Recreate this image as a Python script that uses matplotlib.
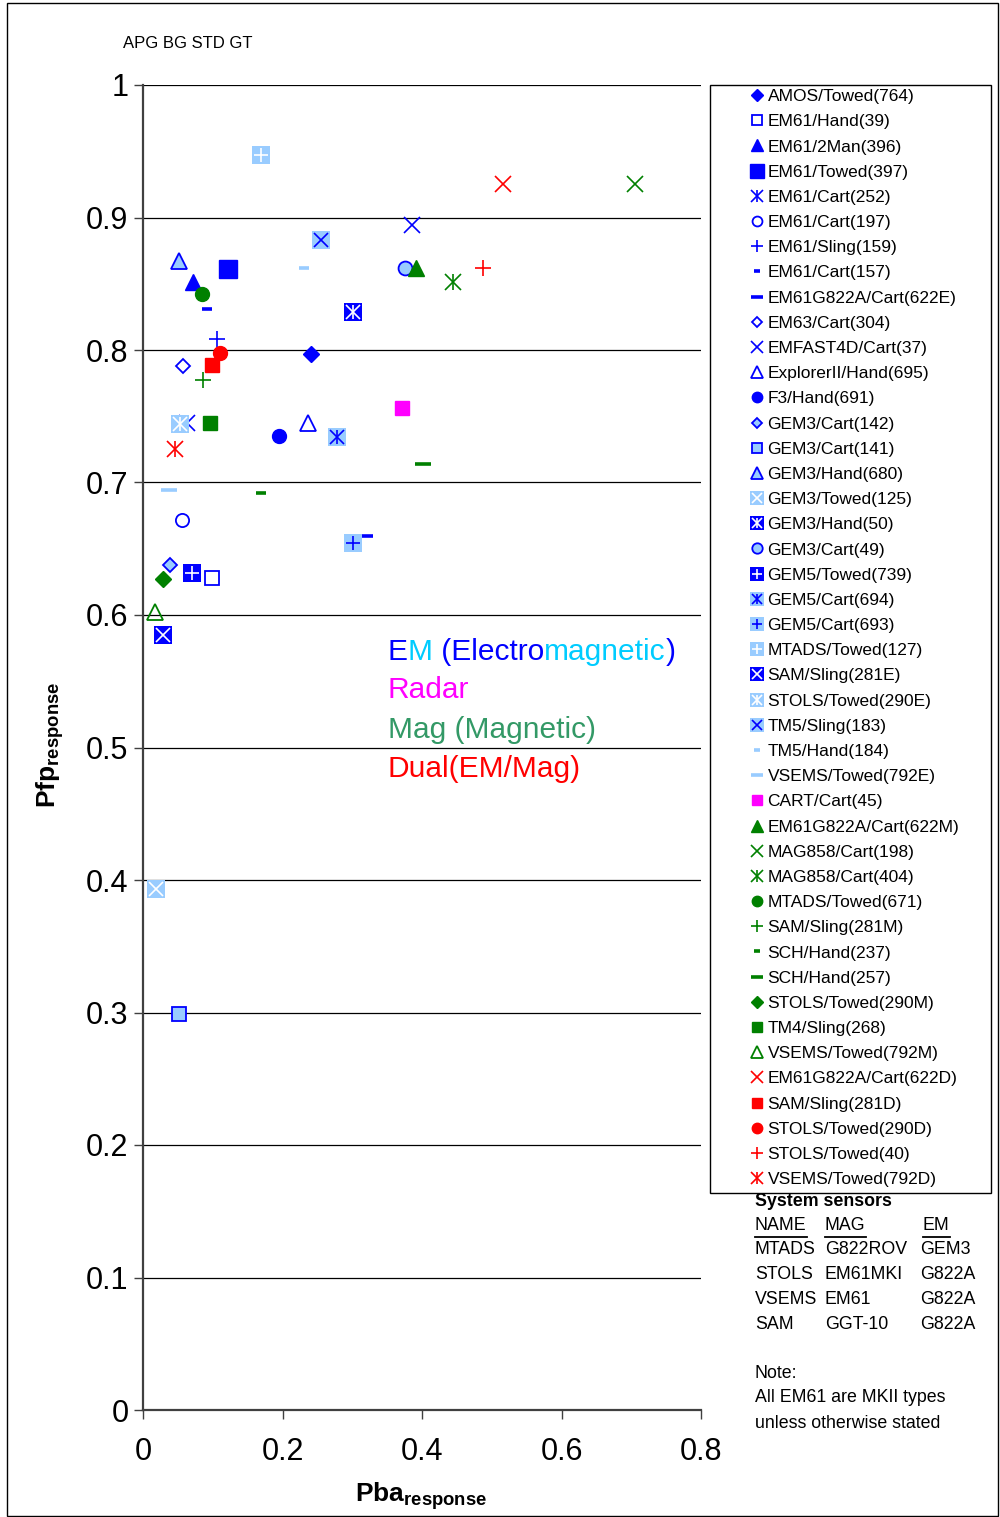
import matplotlib
matplotlib.use('Agg')
import numpy as np
import matplotlib.pyplot as plt
from matplotlib.lines import Line2D
from matplotlib.patches import Rectangle
from matplotlib.ticker import FuncFormatter

plt.rcParams['font.family'] = ['Liberation Sans', 'DejaVu Sans']
plt.rcParams['mathtext.fontset'] = 'custom'
plt.rcParams['mathtext.bf'] = 'Liberation Sans:bold'
plt.rcParams['mathtext.rm'] = 'Liberation Sans'

# --- data (legend order) ---
series = [
    'AMOS/Towed(764)', 'EM61/Hand(39)', 'EM61/2Man(396)', 'EM61/Towed(397)',
    'EM61/Cart(252)', 'EM61/Cart(197)', 'EM61/Sling(159)', 'EM61/Cart(157)',
    'EM61G822A/Cart(622E)', 'EM63/Cart(304)', 'EMFAST4D/Cart(37)',
    'ExplorerII/Hand(695)', 'F3/Hand(691)', 'GEM3/Cart(142)', 'GEM3/Cart(141)',
    'GEM3/Hand(680)', 'GEM3/Towed(125)', 'GEM3/Hand(50)', 'GEM3/Cart(49)',
    'GEM5/Towed(739)', 'GEM5/Cart(694)', 'GEM5/Cart(693)', 'MTADS/Towed(127)',
    'SAM/Sling(281E)', 'STOLS/Towed(290E)', 'TM5/Sling(183)', 'TM5/Hand(184)',
    'VSEMS/Towed(792E)', 'CART/Cart(45)', 'EM61G822A/Cart(622M)',
    'MAG858/Cart(198)', 'MAG858/Cart(404)', 'MTADS/Towed(671)',
    'SAM/Sling(281M)', 'SCH/Hand(237)', 'SCH/Hand(257)', 'STOLS/Towed(290M)',
    'TM4/Sling(268)', 'VSEMS/Towed(792M)', 'EM61G822A/Cart(622D)',
    'SAM/Sling(281D)', 'STOLS/Towed(290D)', 'STOLS/Towed(40)',
    'VSEMS/Towed(792D)',
]
pba = [0.241, 0.099, 0.072, 0.122, 0.063, 0.056, 0.106, 0.092, 0.318, 0.057,
       0.386, 0.237, 0.195, 0.039, 0.052, 0.051, 0.019, 0.301, 0.376, 0.070,
       0.278, 0.301, 0.169, 0.029, 0.053, 0.255, 0.231, 0.037, 0.371, 0.391,
       0.705, 0.444, 0.085, 0.086, 0.169, 0.401, 0.029, 0.096, 0.017, 0.516,
       0.099, 0.110, 0.487, 0.046]
pfp = [0.797, 0.628, 0.851, 0.861, 0.745, 0.672, 0.808, 0.831, 0.660, 0.788,
       0.894, 0.745, 0.735, 0.638, 0.299, 0.867, 0.393, 0.829, 0.862, 0.632,
       0.734, 0.654, 0.947, 0.585, 0.744, 0.883, 0.862, 0.694, 0.756, 0.862,
       0.925, 0.851, 0.842, 0.777, 0.692, 0.714, 0.627, 0.745, 0.602, 0.925,
       0.789, 0.798, 0.862, 0.725]

sensor_rows = [
    ('MTADS', 'G822ROV', 'GEM3'),
    ('STOLS', 'EM61MKI', 'G822A'),
    ('VSEMS', 'EM61', 'G822A'),
    ('SAM', 'GGT-10', 'G822A'),
]

# --- marker styles ---
BLUE = '#0000FF'
LBLUE = '#99CCFF'
GREEN = '#008000'
RED = '#FF0000'
MAGENTA = '#FF00FF'


def filled(m, c, ms):
    return [dict(marker=m, ms=ms, mfc=c, mec=c, mew=1)]


def hollow(m, c, ms, fill='none'):
    return [dict(marker=m, ms=ms, mfc=fill, mec=c, mew=1.3)]


def cross(m, c, ms=11):
    if m == '*':
        return [dict(marker='x', ms=ms, mec=c, mew=1.2),
                dict(marker='|', ms=ms, mec=c, mew=1.2)]
    return [dict(marker=m, ms=ms, mec=c, mew=1.2)]


def boxed(bg, glyph, gc):
    return [dict(marker='s', ms=13.5, mfc=bg, mec=bg, mew=0)] + cross(glyph, gc, 10)


def dash(c, ms):
    return [dict(marker='_', ms=ms, mec=c, mew=2.6)]


styles = [
    filled('D', BLUE, 8.2), hollow('s', BLUE, 9.5), filled('^', BLUE, 11),
    filled('s', BLUE, 13.5), cross('*', BLUE), hollow('o', BLUE, 9.5),
    cross('+', BLUE), dash(BLUE, 6.5), dash(BLUE, 11.5), hollow('D', BLUE, 7.4),
    cross('x', BLUE), hollow('^', BLUE, 11), filled('o', BLUE, 10),
    hollow('D', BLUE, 7.4, LBLUE), hollow('s', BLUE, 9.5, LBLUE),
    hollow('^', BLUE, 11, LBLUE), boxed(LBLUE, 'x', 'white'),
    boxed(BLUE, '*', 'white'), hollow('o', BLUE, 10, LBLUE),
    boxed(BLUE, '+', 'white'), boxed(LBLUE, '*', BLUE), boxed(LBLUE, '+', BLUE),
    boxed(LBLUE, '+', 'white'), boxed(BLUE, 'x', 'white'),
    boxed(LBLUE, '*', 'white'), boxed(LBLUE, 'x', BLUE), dash(LBLUE, 6.5),
    dash(LBLUE, 11.5), filled('s', MAGENTA, 9.5), filled('^', GREEN, 11),
    cross('x', GREEN), cross('*', GREEN), filled('o', GREEN, 10),
    cross('+', GREEN), dash(GREEN, 6.5), dash(GREEN, 11.5),
    filled('D', GREEN, 8.2), filled('s', GREEN, 9.5), hollow('^', GREEN, 11),
    cross('x', RED), filled('s', RED, 9.5), filled('o', RED, 10),
    cross('+', RED), cross('*', RED),
]

W, H = 1000, 1517


def px(x, y):
    return x / W, 1 - y / H


fig = plt.figure(figsize=(W / 100, H / 100), dpi=100)
fig.patches.append(Rectangle(px(7, 1516), 991 / W, 1513 / H, transform=fig.transFigure,
                             fill=False, edgecolor='black', lw=1))

ax = fig.add_axes([143 / W, 1 - 1410 / H, 558 / W, 1325 / H])
ax.set_xlim(0, 0.8)
ax.set_ylim(0, 1)

handles = []
for name, x, y, layers in zip(series, pba, pfp, styles):
    parts = []
    for lay in layers:
        ax.plot([x], [y], ls='none', zorder=3, **lay)
        parts.append(Line2D([], [], ls='none', **lay))
    handles.append(tuple(parts))

ax.set_yticks(np.arange(0, 1.01, 0.1))
ax.set_xticks(np.arange(0, 0.81, 0.2))
fmt = FuncFormatter(lambda v, p: '%g' % round(v, 2))
ax.xaxis.set_major_formatter(fmt)
ax.yaxis.set_major_formatter(fmt)
ax.yaxis.grid(True, color='black', lw=0.9)
ax.set_axisbelow(True)
for s in ['top', 'right']:
    ax.spines[s].set_visible(False)
for s in ['left', 'bottom']:
    ax.spines[s].set_color('#404040')
    ax.spines[s].set_linewidth(1.6)
ax.tick_params(axis='both', direction='out', length=6.5, width=1, color='#404040',
               labelsize=22)
ax.tick_params(axis='y', pad=4)
ax.tick_params(axis='x', pad=13)


# multicolour group captions
def color_text(x, y, pieces, size=21.5):
    t = ax.text(x, y, pieces[0][0], color=pieces[0][1], fontsize=size, va='baseline')
    for s, c in pieces[1:]:
        t = ax.annotate(s, xy=(1, 0), xycoords=t, color=c, fontsize=size, va='bottom')


color_text(0.351, 0.566, [('E', BLUE), ('M', '#00CCFF'), (' (Electro', BLUE),
                          ('magnetic', '#00CCFF'), (')', BLUE)])
color_text(0.351, 0.537, [('Radar', MAGENTA)])
color_text(0.351, 0.507, [('Mag (Magnetic)', '#339966')])
color_text(0.351, 0.478, [('Dual(EM/Mag)', RED)])

fig.text(*px(123, 43), 'APG BG STD GT', fontsize=12, va='center', ha='left')
fig.text(*px(50, 745), r'$\mathbf{Pfp}_{\mathbf{response}}$', fontsize=19,
         rotation=90, ha='center', va='center')
fig.text(*px(421, 1496), r'$\mathbf{Pba}_{\mathbf{response}}$', fontsize=19,
         ha='center', va='center')

# legend
fig.patches.append(Rectangle(px(710, 1193), 281 / W, 1108 / H, transform=fig.transFigure,
                             fill=False, edgecolor='black', lw=1))
fig.legend(handles, series, loc='upper left', bbox_to_anchor=px(749, 89),
           frameon=False, fontsize=12.5, handlelength=0.92, handletextpad=0.15,
           labelspacing=0.578, borderpad=0, borderaxespad=0, markerscale=0.75)

# sensor table
fs = 12.8
fig.text(*px(755, 1202), 'System sensors', fontsize=fs, fontweight='bold', va='center')
col_x = [755, 825, 923]
heads = []
for cx, h in zip(col_x, ['NAME', 'MAG', 'EM']):
    heads.append(fig.text(*px(cx, 1226), h, fontsize=fs, va='center'))
for i, row in enumerate(sensor_rows):
    for cx, v in zip(col_x, row):
        fig.text(*px(cx if cx != 923 else 920, 1250 + i * 24.7), v, fontsize=fs, va='center')
fig.text(*px(755, 1373), 'Note:', fontsize=fs, va='center')
fig.text(*px(755, 1398), 'All EM61 are MKII types', fontsize=fs, va='center')
fig.text(*px(755, 1423), 'unless otherwise stated', fontsize=fs, va='center')

fig.canvas.draw()
r = fig.canvas.get_renderer()
for t in heads:
    bb = t.get_window_extent(r)
    yy = 1 - 1237 / H
    fig.add_artist(Line2D([bb.x0 / W, bb.x1 / W], [yy, yy], transform=fig.transFigure,
                          color='black', lw=1.3))

fig.savefig('out.png', dpi=100)
